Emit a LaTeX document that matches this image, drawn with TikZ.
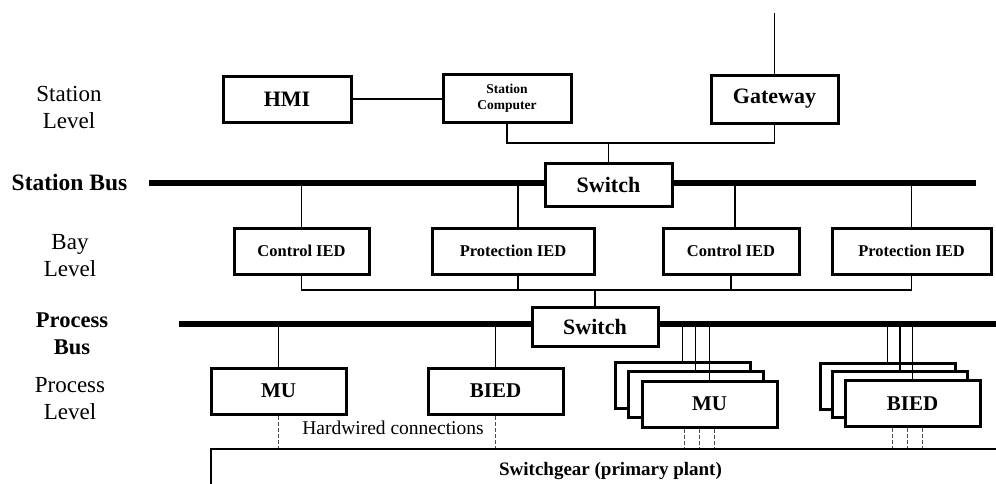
\documentclass[tikz,border=0pt]{standalone}
\usepackage{fontspec}
\setmainfont{Liberation Serif}
\usetikzlibrary{calc}

\begin{document}
\begin{tikzpicture}[x=1pt,y=-1pt,
box/.style={draw, line width=3pt, fill=white, inner sep=0pt, font=\bfseries\fontsize{22}{24}\selectfont},
ied/.style={box, minimum height=46pt, font=\bfseries\fontsize{16.5}{18}\selectfont},
unit/.style={box, minimum width=135pt, minimum height=46pt, font=\bfseries\fontsize{21}{24}\selectfont},
wire/.style={line width=1.4pt},
bus/.style={line width=6pt},
hardwire/.style={line width=1.5pt, black!70, dash pattern=on 4pt off 2pt},
level/.style={align=center, font=\fontsize{23}{27}\selectfont}
]
\clip (0,0) rectangle (996,483);

% level names on the left
\node[level] (stlvl) at (69,107) {Station\\Level};
\node[level, font=\bfseries\fontsize{23.5}{27}\selectfont] (stbus) at (69.5,182) {Station Bus};
\node[level] (baylvl) at (70,256) {Bay\\Level};
\node[level, font=\bfseries\fontsize{22.5}{27}\selectfont] (prbus) at (72,334) {Process\\Bus};
\node[level] (prlvl) at (70,399) {Process\\Level};

% the two buses
\coordinate (sbusL) at (149,183);
\coordinate (sbusR) at (976,183);
\coordinate (pbusL) at (179,324);
\coordinate (pbusR) at (1000,324);
\draw[bus] (sbusL) -- (sbusR);
\draw[bus] (pbusL) -- (pbusR);

% station level
\node[box, minimum width=128pt, minimum height=46pt] (hmi) at (287,99) {HMI};
\node[box, minimum width=128pt, minimum height=48pt, align=center, font=\bfseries\fontsize{13.5}{16}\selectfont] (sc) at (507,98) {Station\\Computer};
\node[box, minimum width=127pt, minimum height=48pt] (gw) at (774.5,99) {Gateway};
\node[box, minimum width=127pt, minimum height=43pt] (sw1) at (608.5,184.5) {Switch};
\coordinate (wan) at (774.5,13);
\coordinate (sttap) at (608.5,143);
\draw[wire] (hmi.east) -- (hmi.east -| sc.west);
\draw[wire] (wan) -- (gw.north);
\draw[wire] (sc.south) |- (sttap) -| (gw.south);
\draw[wire] (sttap) -- (sw1.north);

% bay level
\node[ied, minimum width=135pt] (ctrl1) at (301.5,251) {Control IED};
\node[ied, minimum width=162pt] (prot1) at (513,251) {Protection IED};
\node[ied, minimum width=136pt] (ctrl2) at (731,251) {Control IED};
\node[ied, minimum width=159pt] (prot2) at (911.5,251) {Protection IED};
\draw[wire] (ctrl1.north |- sbusL) -- (ctrl1.north);
\draw[wire] ([xshift=5pt]prot1.north |- sbusL) -- ([xshift=5pt]prot1.north);
\draw[wire] ([xshift=4pt]ctrl2.north |- sbusL) -- ([xshift=4pt]ctrl2.north);
\draw[wire] (prot2.north |- sbusL) -- (prot2.north);

\coordinate (baytap) at (595,290);
\draw[wire] (ctrl1.south) |- (prot2.south |- baytap) -- (prot2.south);
\draw[wire] ([xshift=5pt]prot1.south) -- ([xshift=5pt]prot1.south |- baytap);
\draw[wire] (ctrl2.south) -- (ctrl2.south |- baytap);
\node[box, minimum width=126pt, minimum height=39pt] (sw2) at (595,326.5) {Switch};
\draw[wire] (baytap) -- (sw2.north);

% process level
\node[unit] (mu) at (278.5,391) {MU};
\node[unit] (bied) at (495.5,391) {BIED};
\draw[wire] (mu.north |- pbusL) -- (mu.north);
\draw[wire] (bied.north |- pbusL) -- (bied.north);

% stacked units
\node[unit] (mu3) at (682.5,385) {};
\node[unit] (mu2) at (695.5,394) {};
\node[unit] (mu1) at (709.5,404) {MU};
\node[unit] (bied3) at (887.5,386) {};
\node[unit] (bied2) at (900,394.5) {};
\node[unit] (bied1) at (912.5,403.5) {BIED};
\foreach \u in {mu3,mu2,mu1,bied3,bied2,bied1}
  \draw[wire] (\u.north |- pbusL) -- (\u.north);

% switchgear and hardwired links
\node[draw, line width=2.6pt, inner sep=0pt, minimum width=799pt, minimum height=44pt, font=\bfseries\fontsize{19}{22}\selectfont] (gear) at (610.5,471) {Switchgear (primary plant)};
\node[font=\fontsize{19.5}{22}\selectfont] (hw) at (393,428) {Hardwired connections};
\draw[hardwire] (mu.south) -- (mu.south |- gear.north);
\draw[hardwire] (bied.south) -- (bied.south |- gear.north);
\foreach \dx in {-25,-10,5}
  \draw[hardwire] ($(mu1.south)+(\dx,0)$) -- ($(mu1.south |- gear.north)+(\dx,0)$);
\foreach \dx in {-20,-5,10}
  \draw[hardwire] ($(bied1.south)+(\dx,0)$) -- ($(bied1.south |- gear.north)+(\dx,0)$);
\end{tikzpicture}
\end{document}
